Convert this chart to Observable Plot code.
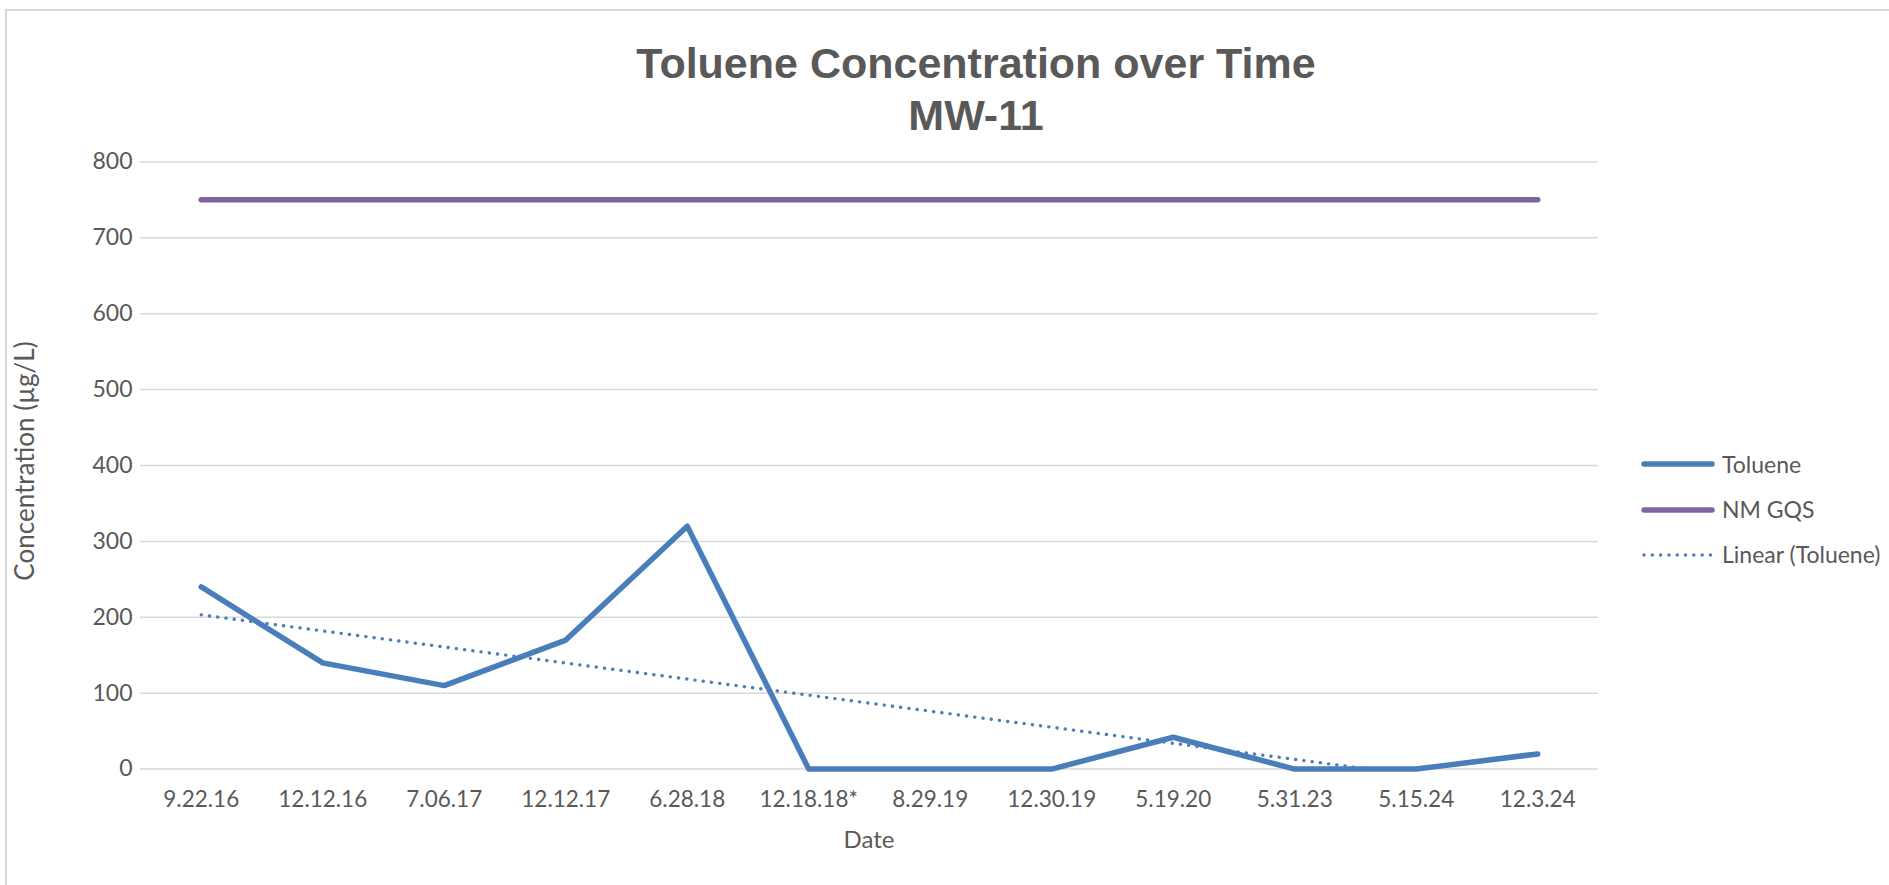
<!DOCTYPE html>
<html>
<head>
<meta charset="utf-8">
<script src="https://cdn.jsdelivr.net/npm/d3@7"></script>
<script src="https://cdn.jsdelivr.net/npm/@observablehq/plot@0.6"></script>
<style>
  html, body { margin: 0; padding: 0; background: #ffffff; }
  #wrap { position: relative; width: 1889px; height: 885px; overflow: hidden; background: #fff; }
  #frame { position: absolute; left: 5px; top: 9px; width: 2000px; height: 1000px;
           border-left: 2px solid #d9d9d9; border-top: 2px solid #d9d9d9; }
  #chart { position: absolute; left: 0; top: 0; }
  #title { position: absolute; left: 0; width: 1952px; top: 37px; text-align: center;
           font: 700 43px/52px "Liberation Sans", Arial, sans-serif; color: #595959; }
  .axt { position: absolute; font: 400 24px/24px Lato, sans-serif; color: #595959; white-space: nowrap; }
  .leg { position: absolute; left: 1641px; height: 21px; display: flex; align-items: center;
         font: 400 23px/21px Lato, sans-serif; color: #595959; white-space: nowrap; }
  .leg svg { margin-right: 7px; }
</style>
</head>
<body>
<div id="wrap">
  <div id="frame"></div>
  <div id="chart"></div>
  <div id="title">Toluene Concentration over Time<br>MW-11</div>
  <div class="axt" id="xlab">Date</div>
  <div class="axt" id="ylab">Concentration (µg/L)</div>
  <div id="legend"></div>
</div>
<script>
// ---- data ----
const dates = ["9.22.16", "12.12.16", "7.06.17", "12.12.17", "6.28.18", "12.18.18*",
               "8.29.19", "12.30.19", "5.19.20", "5.31.23", "5.15.24", "12.3.24"];
const toluene = [240, 140, 110, 170, 320, 0, 0, 0, 42, 0, 0, 20];
const nmGqs = [750, 750, 750, 750, 750, 750, 750, 750, 750, 750, 750, 750];
const yTicks = [0, 100, 200, 300, 400, 500, 600, 700, 800];
const seriesNames = ["Toluene", "NM GQS", "Linear (Toluene)"];

const colors = { toluene: "#4a7ebb", gqs: "#8064a2" };

const positions = dates.map((d, i) => i + 1);
const rows = dates.map((d, i) => ({ idx: positions[i], date: d, toluene: toluene[i], gqs: nmGqs[i] }));

const chart = Plot.plot({
  width: 1889,
  height: 885,
  marginLeft: 140,
  marginRight: 291,
  marginTop: 161.4,
  marginBottom: 116.4,
  x: { type: "linear", domain: [0.5, 12.5] },
  y: { domain: [0, 800] },
  style: { fontFamily: "Lato, sans-serif", fontSize: "23px", color: "#595959", background: "transparent", overflow: "visible" },
  marks: [
    Plot.ruleY(yTicks, { stroke: "#d9d9d9", strokeWidth: 1.5 }),
    Plot.axisY({ ticks: yTicks, tickSize: 0, tickPadding: 8, label: null, fontSize: 23 }),
    Plot.axisX({ ticks: positions, tickSize: 0, tickPadding: 22, label: null, fontSize: 22.5,
                 tickFormat: (i) => dates[i - 1] }),
    Plot.line(rows, { x: "idx", y: "gqs", stroke: colors.gqs, strokeWidth: 5.5, strokeLinecap: "round" }),
    Plot.line(rows, { x: "idx", y: "toluene", stroke: colors.toluene, strokeWidth: 5.5,
                      strokeLinecap: "round", strokeLinejoin: "round" }),
    Plot.linearRegressionY(rows, { x: "idx", y: "toluene", ci: 0, stroke: colors.toluene,
                      strokeWidth: 3.4, strokeDasharray: "0.1,8.2", strokeLinecap: "round", clip: true })
  ]
});
document.getElementById("chart").appendChild(chart);

// axis titles
const xlab = document.getElementById("xlab");
xlab.style.left = "869px";
xlab.style.top = "827px";
xlab.style.transform = "translateX(-50%)";
const ylab = document.getElementById("ylab");
ylab.style.fontSize = "26px";
ylab.style.lineHeight = "26px";
ylab.style.left = "24px";
ylab.style.top = "461px";
ylab.style.transform = "translate(-50%, -50%) rotate(-90deg)";
ylab.style.transformOrigin = "center center";

// legend
const legend = document.getElementById("legend");
const legendY = [453.5, 499, 544];
const legendStyles = [
  { stroke: colors.toluene, width: 5.5, dash: null },
  { stroke: colors.gqs, width: 5.5, dash: null },
  { stroke: colors.toluene, width: 3.4, dash: "0.1,8.2" }
];
seriesNames.forEach((name, k) => {
  const row = document.createElement("div");
  row.className = "leg";
  row.style.top = legendY[k] + "px";
  const s = legendStyles[k];
  row.innerHTML = `<svg width="74" height="12"><line x1="3" x2="71" y1="6" y2="6" stroke="${s.stroke}" stroke-width="${s.width}" stroke-linecap="round" ${s.dash ? `stroke-dasharray="${s.dash}"` : ""}/></svg><span>${name}</span>`;
  legend.appendChild(row);
});
</script>
</body>
</html>
